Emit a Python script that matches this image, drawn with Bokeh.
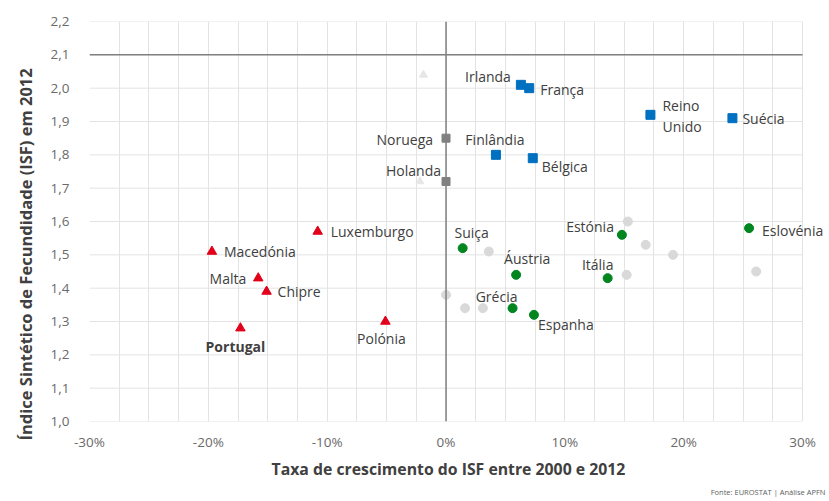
from bokeh.plotting import figure
from bokeh.models import Range1d, FixedTicker, Span, Label, Title
from bokeh.embed import file_html
from bokeh.resources import INLINE

# ---- data ----
red_names = ["Macedónia", "Luxemburgo", "Malta", "Chipre", "Portugal", "Polónia"]
red_x = [-19.7, -10.8, -15.8, -15.1, -17.3, -5.1]
red_y = [1.51, 1.57, 1.43, 1.39, 1.28, 1.30]

blue_names = ["Irlanda", "França", "Reino\nUnido", "Suécia", "Finlândia", "Bélgica"]
blue_x = [6.3, 7.0, 17.2, 24.1, 4.2, 7.3]
blue_y = [2.01, 2.00, 1.92, 1.91, 1.80, 1.79]

grey_names = ["Noruega", "Holanda"]
grey_x = [0.0, 0.0]
grey_y = [1.85, 1.72]

green_names = ["Suiça", "Áustria", "Itália", "Estónia", "Eslovénia", "Grécia", "Espanha"]
green_x = [1.4, 5.9, 13.6, 14.8, 25.5, 5.6, 7.4]
green_y = [1.52, 1.44, 1.43, 1.56, 1.58, 1.34, 1.32]

other_x = [15.3, 16.8, 19.1, 26.1, 15.2, 3.6, 0.0, 1.6, 3.1]
other_y = [1.60, 1.53, 1.50, 1.45, 1.44, 1.51, 1.38, 1.34, 1.34]

other_tri_x = [-1.9, -2.2]
other_tri_y = [2.04, 1.72]

x_ticks = [-30, -20, -10, 0, 10, 20, 30]
x_tick_labels = ["-30%", "-20%", "-10%", "0%", "10%", "20%", "30%"]
y_ticks = [1.0, 1.1, 1.2, 1.3, 1.4, 1.5, 1.6, 1.7, 1.8, 1.9, 2.0, 2.1, 2.2]
y_tick_labels = ["1,0", "1,1", "1,2", "1,3", "1,4", "1,5", "1,6", "1,7", "1,8", "1,9", "2,0", "2,1", "2,2"]

replacement_level = 2.1
x_title = "Taxa de crescimento do ISF entre 2000 e 2012"
y_title = "Índice Sintético de Fecundidade (ISF) em 2012"
source_text = "Fonte: EUROSTAT | Análise APFN"

# label placement (pixel offsets right/down, alignment) per country
label_style = {
    "Macedónia": (12, 0, "left"),
    "Luxemburgo": (13, 0, "left"),
    "Malta": (-12, 0, "right"),
    "Chipre": (11, 0, "left"),
    "Portugal": (-5, 18, "center"),
    "Polónia": (-4, 17, "center"),
    "Irlanda": (-10, -8, "right"),
    "França": (11, 1, "left"),
    "Reino\nUnido": (12, 1, "left"),
    "Suécia": (10, 0, "left"),
    "Finlândia": (-1, -15, "center"),
    "Bélgica": (9, 8, "left"),
    "Noruega": (-13, 1, "right"),
    "Holanda": (-5, -11, "right"),
    "Suiça": (9, -16, "center"),
    "Áustria": (11, -16, "center"),
    "Itália": (-10, -14, "center"),
    "Estónia": (-8, -8, "right"),
    "Eslovénia": (13, 2, "left"),
    "Grécia": (-16, -12, "center"),
    "Espanha": (4, 10, "left"),
}

FONT = "Open Sans"
LABEL_COLOR = "#404040"
GRID = "#e3e3e3"

# frame extends a little past 30% so right-hand labels are not clipped
p = figure(width=829, height=501, output_backend="svg", toolbar_location=None,
           x_range=Range1d(-30, 32.1), y_range=Range1d(1.0, 2.2),
           min_border_left=87, min_border_right=2, min_border_top=21, min_border_bottom=80)
p.outline_line_color = None
p.background_fill_color = "white"

# grid
p.xgrid.ticker = FixedTicker(ticks=[x_ticks[0] + 2.5 * i for i in range(25)])
p.xgrid.grid_line_color = GRID
p.ygrid.grid_line_color = None
p.segment(x0=[x_ticks[0]] * len(y_ticks), x1=[x_ticks[-1]] * len(y_ticks),
          y0=y_ticks, y1=y_ticks, line_color=GRID, line_width=1)

# axes
for ax in (p.xaxis[0], p.yaxis[0]):
    ax.axis_line_color = None
    ax.major_tick_line_color = None
    ax.minor_tick_line_color = None
    ax.major_label_text_font = FONT
    ax.major_label_text_font_size = "13.5px"
    ax.major_label_text_color = "#6a6a6a"

p.xaxis.ticker = FixedTicker(ticks=x_ticks)
p.xaxis.major_label_overrides = {t: l for t, l in zip(x_ticks, x_tick_labels)}
p.yaxis.ticker = FixedTicker(ticks=y_ticks)
p.yaxis.major_label_overrides = {t: l for t, l in zip(y_ticks, y_tick_labels)}
p.xaxis.major_label_standoff = 5
p.yaxis.major_label_standoff = 14

# axis titles as titles so they can be positioned like the reference
p.add_layout(Title(text=y_title, align="left", offset=-19, standoff=22,
                   text_font=FONT, text_font_size="16.5px", text_font_style="bold",
                   text_color=LABEL_COLOR), "left")
p.add_layout(Title(text=x_title, align="left", offset=182, standoff=5,
                   text_font=FONT, text_font_size="15.8px", text_font_style="bold",
                   text_color=LABEL_COLOR), "below")
p.add_layout(Title(text=source_text, align="right", standoff=4, offset=2,
                   text_font=FONT, text_font_size="7.5px", text_color="#606060",
                   text_font_style="normal"), "below")

# reference lines
p.segment(x0=[x_ticks[0]], x1=[x_ticks[-1]], y0=[replacement_level], y1=[replacement_level],
          line_color="#808080", line_width=1.5)
p.add_layout(Span(location=0, dimension="height", line_color="#808080", line_width=1.5))

# markers
p.scatter(other_tri_x, other_tri_y, marker="triangle", size=8, color="#e6e6e6")
p.scatter(other_x, other_y, marker="circle", size=9, color="#d9d9d9")
p.scatter(grey_x, grey_y, marker="square", size=8, color="#808080")
p.scatter(red_x, red_y, marker="triangle", size=9.5, color="#e2001a")
p.scatter(blue_x, blue_y, marker="square", size=9, color="#0070c0")
p.scatter(green_x, green_y, marker="circle", size=9, color="#00851f")

# labels
all_names = red_names + blue_names + grey_names + green_names
all_x = red_x + blue_x + grey_x + green_x
all_y = red_y + blue_y + grey_y + green_y
LINE_H = 21
for n, x, y in zip(all_names, all_x, all_y):
    xo, yo, a = label_style[n]
    lines = n.split("\n")
    k = len(lines)
    for i, line in enumerate(lines):
        dy = yo + (i - (k - 1) / 2) * LINE_H
        p.add_layout(Label(x=x, y=y, text=line, x_offset=xo, y_offset=-dy,
                           text_font=FONT, text_font_size="14px", text_color=LABEL_COLOR,
                           text_font_style="bold" if n == "Portugal" else "normal",
                           text_align=a, text_baseline="middle"))

open("out.html", "w").write(file_html(p, INLINE))
